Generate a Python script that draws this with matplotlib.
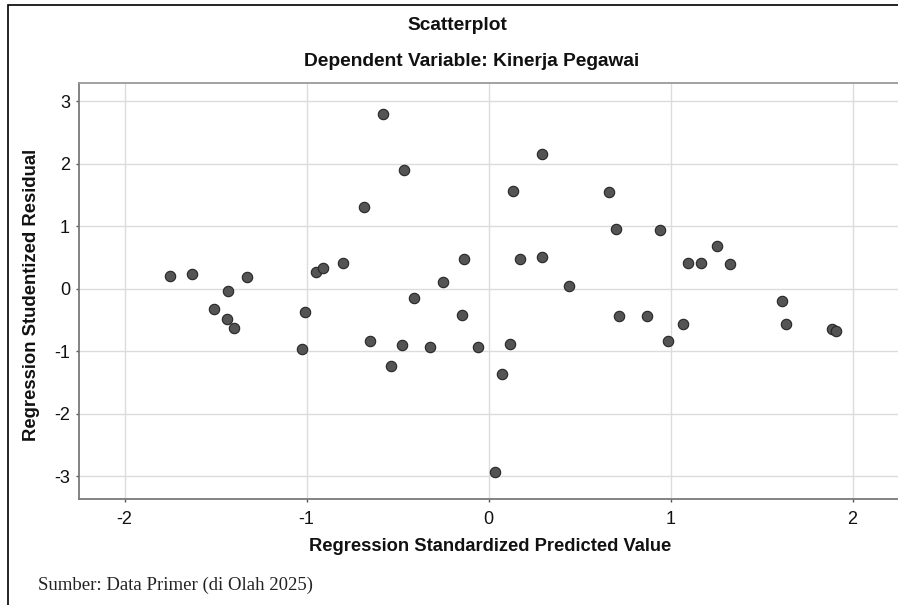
import matplotlib.pyplot as plt
from matplotlib.patches import Rectangle

# standardized predicted value vs studentized residual
pred_x = [-1.749, -1.628, -1.510, -1.433, -1.437, -1.400, -1.328,
          -1.009, -1.024, -0.950, -0.912, -0.802, -0.683, -0.651,
          -0.580, -0.534, -0.464, -0.473, -0.409, -0.321, -0.251,
          -0.147, -0.136,
          -0.056, 0.038, 0.074, 0.119, 0.137, 0.171, 0.293, 0.293,
          0.442, 0.664, 0.701, 0.719, 0.872, 0.944, 0.989, 1.070,
          1.095, 1.169, 1.253, 1.325, 1.610, 1.635, 1.886, 1.909]
resid_y = [0.21, 0.24, -0.33, -0.04, -0.48, -0.63, 0.19,
           -0.37, -0.96, 0.26, 0.33, 0.41, 1.31, -0.84,
           2.79, -1.23, 1.90, -0.90, -0.15, -0.93, 0.11,
           -0.42, 0.47,
           -0.94, -2.94, -1.37, -0.89, 1.57, 0.47, 2.15, 0.51,
           0.05, 1.54, 0.95, -0.43, -0.44, 0.94, -0.84, -0.57,
           0.41, 0.41, 0.69, 0.40, -0.20, -0.56, -0.64, -0.68]

x_ticks = [-2, -1, 0, 1, 2]
y_ticks = [-3, -2, -1, 0, 1, 2, 3]

sans = ['Liberation Sans', 'DejaVu Sans']
plt.rcParams['axes.unicode_minus'] = False

fig = plt.figure(figsize=(8.98, 6.05), dpi=100)
ax = fig.add_axes([79 / 898, 1 - 499.3 / 605, 1 - 79 / 898, (499.3 - 83) / 605])

ax.scatter(pred_x, resid_y, s=56, color='#545454', edgecolors='#262626',
           linewidths=0.8, zorder=3)

ax.set_xlim(-2.25, 2.25)
ax.set_ylim(-3.37, 3.29)
ax.set_xticks(x_ticks)
ax.set_yticks(y_ticks)
ax.grid(True, color='#dcdcdc', linewidth=1.0, zorder=0)
ax.set_axisbelow(True)

for side in ['left', 'bottom']:
    ax.spines[side].set_color('#7a7a7a')
    ax.spines[side].set_linewidth(1.3)
ax.spines['top'].set_color('#9a9a9a')
ax.spines['top'].set_linewidth(1.3)
ax.spines['right'].set_visible(False)

ax.tick_params(axis='both', direction='out', length=2.5, width=1,
               color='#555555', labelsize=13, labelcolor='#111111')
ax.tick_params(axis='x', pad=6)
ax.tick_params(axis='y', pad=4)
for lab in ax.get_xticklabels() + ax.get_yticklabels():
    lab.set_family(sans)

fig.text(457 / 898, 1 - 30 / 605, 'Scatterplot', ha='center', va='baseline',
         fontsize=13.8, fontweight='bold', family=sans, color='#111111')
fig.text(472 / 898, 1 - 66 / 605, 'Dependent Variable: Kinerja Pegawai',
         ha='center', va='baseline', fontsize=13.8, fontweight='bold',
         family=sans, color='#111111')
fig.text(490 / 898, 1 - 551 / 605, 'Regression Standardized Predicted Value',
         ha='center', va='baseline', fontsize=13.2, fontweight='bold',
         family=sans, color='#111111')
fig.text(32 / 898, 1 - 295 / 605, 'Regression Studentized Residual',
         ha='center', va='center', rotation=90, fontsize=13.3,
         fontweight='bold', family=sans, color='#111111')
fig.text(38 / 898, 1 - 590 / 605, 'Sumber: Data Primer (di Olah 2025)',
         ha='left', va='baseline', fontsize=13.5,
         family=['Liberation Serif', 'DejaVu Serif'], color='#222222')

# outer frame, only its top and left edges fall inside the picture
fig.patches.append(Rectangle((8 / 898, -0.1), 2, 1.1 - 5 / 605,
                             transform=fig.transFigure, fill=False,
                             edgecolor='black', linewidth=1.2))

fig.savefig('out.png', dpi=100)
